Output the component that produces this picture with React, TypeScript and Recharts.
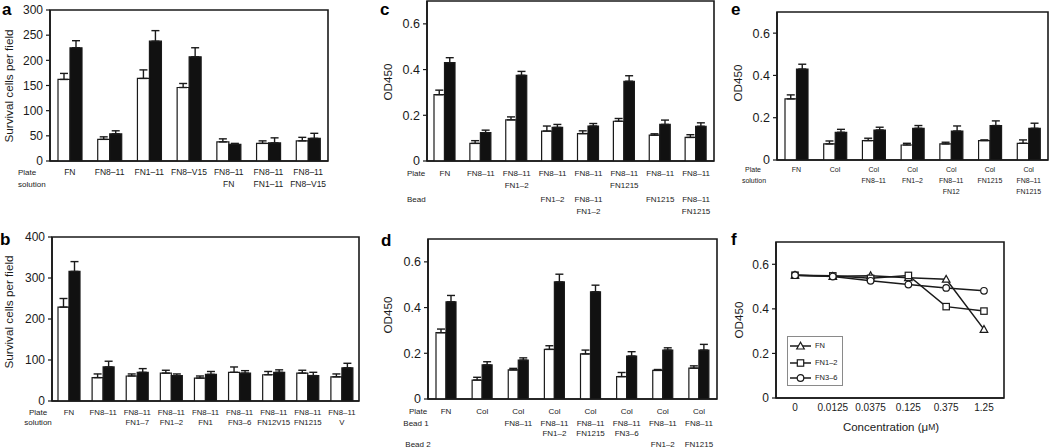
import React from 'react';
import { BarChart, Bar, XAxis, YAxis, ErrorBar, LineChart, Line, Legend, ReferenceArea } from 'recharts';

const FONT = '"Liberation Sans", Arial, Helvetica, sans-serif';
const INK = '#1a1a1a';

// ---------- Panel a ----------
const aLabels = [['FN', ''], ['FN8–11', ''], ['FN1–11', ''], ['FN8–V15', ''], ['FN8–11', 'FN'], ['FN8–11', 'FN1–11'], ['FN8–11', 'FN8–V15']];
const aOpen = [162, 43, 164, 146, 38, 35, 40];
const aOpenErr = [12, 5, 17, 8, 6, 5, 7];
const aSolid = [225, 54, 238, 207, 33, 36, 45];
const aSolidErr = [14, 6, 21, 18, 2, 10, 10];
const aTicks = [0, 50, 100, 150, 200, 250, 300];

// ---------- Panel b ----------
const bLabels = [['FN', ''], ['FN8–11', ''], ['FN8–11', 'FN1–7'], ['FN8–11', 'FN1–2'], ['FN8–11', 'FN1'], ['FN8–11', 'FN3–6'], ['FN8–11', 'FN12V15'], ['FN8–11', 'FN1215'], ['FN8–11', 'V']];
const bOpen = [229, 57, 61, 68, 56, 70, 64, 68, 59];
const bOpenErr = [21, 9, 5, 7, 5, 13, 8, 7, 7];
const bSolid = [316, 83, 70, 62, 65, 68, 70, 62, 81];
const bSolidErr = [24, 14, 9, 4, 7, 6, 6, 8, 11];
const bTicks = [0, 100, 200, 300, 400];

// ---------- Panel c ----------
const cLabels = [
  ['FN', '', '', ''], ['FN8–11', '', '', ''], ['FN8–11', 'FN1–2', '', ''], ['FN8–11', '', 'FN1–2', ''],
  ['FN8–11', '', 'FN8–11', 'FN1–2'], ['FN8–11', 'FN1215', '', ''], ['FN8–11', '', 'FN1215', ''], ['FN8–11', '', 'FN8–11', 'FN1215'],
];
const cOpen = [0.29, 0.077, 0.18, 0.131, 0.12, 0.174, 0.113, 0.103];
const cOpenErr = [0.02, 0.012, 0.013, 0.022, 0.012, 0.012, 0.006, 0.012];
const cSolid = [0.43, 0.124, 0.375, 0.147, 0.153, 0.349, 0.16, 0.152];
const cSolidErr = [0.022, 0.011, 0.017, 0.013, 0.011, 0.024, 0.019, 0.015];

// ---------- Panel d ----------
const dLabels = [
  ['FN', '', '', ''], ['Col', '', '', ''], ['Col', 'FN8–11', '', ''], ['Col', 'FN8–11', 'FN1–2', ''],
  ['Col', 'FN8–11', 'FN1215', ''], ['Col', 'FN8–11', 'FN3–6', ''], ['Col', 'FN8–11', '', 'FN1–2'], ['Col', 'FN8–11', '', 'FN1215'],
];
const dOpen = [0.29, 0.083, 0.127, 0.217, 0.197, 0.098, 0.125, 0.135];
const dOpenErr = [0.016, 0.012, 0.007, 0.016, 0.017, 0.018, 0.004, 0.01];
const dSolid = [0.425, 0.149, 0.17, 0.512, 0.469, 0.188, 0.214, 0.214];
const dSolidErr = [0.028, 0.014, 0.01, 0.034, 0.029, 0.019, 0.01, 0.025];

// ---------- Panel e ----------
const eLabels = [['FN', '', ''], ['Col', '', ''], ['Col', 'FN8–11', ''], ['Col', 'FN1–2', ''], ['Col', 'FN8–11', 'FN12'], ['Col', 'FN1215', ''], ['Col', 'FN8–11', 'FN1215']];
const eOpen = [0.289, 0.076, 0.092, 0.071, 0.076, 0.092, 0.079];
const eOpenErr = [0.019, 0.014, 0.011, 0.008, 0.008, 0.003, 0.016];
const eSolid = [0.43, 0.131, 0.142, 0.15, 0.137, 0.163, 0.15];
const eSolidErr = [0.023, 0.014, 0.013, 0.013, 0.024, 0.022, 0.024];

const odTicks = [0, 0.2, 0.4, 0.6];

// ---------- Panel f ----------
const fConc = ['0', '0.0125', '0.0375', '0.125', '0.375', '1.25'];
const fSeries = ['FN', 'FN1–2', 'FN3–6'];
const fFN = [0.551, 0.546, 0.549, 0.54, 0.533, 0.308];
const fFN12 = [0.551, 0.548, 0.537, 0.55, 0.41, 0.39];
const fFN36 = [0.551, 0.545, 0.526, 0.509, 0.494, 0.481];

const buildBars = (labels: string[][], o: number[], oe: number[], s: number[], se: number[]) =>
  labels.map((l, i) => ({
    id: l.join('|') + '#' + i,
    open: o[i],
    openErr: [0, oe[i]],
    solid: s[i],
    solidErr: [0, se[i]],
  }));

const fData = fConc.map((c, i) => ({ c, xi: i, FN: fFN[i], 'FN1–2': fFN12[i], 'FN3–6': fFN36[i] }));
const fTickIdx = fConc.map((_, i) => i);

const odFmt = (v: number) => (v === 0 ? '0' : v.toFixed(1));

type PanelProps = {
  L: number; T: number; W: number; H: number;
  data: any[]; labels: string[][]; offsets: number[];
  yMax: number; yTicks: number[]; catFs: number; tickFs: number; barSize: number;
  fmt?: (v: number) => string;
};

const YW = 45;
const MT = 8;
const MR = 4;
const AXIS = { stroke: INK, strokeWidth: 1.6 };

function BarPanel(p: PanelProps) {
  const XH = p.offsets[p.offsets.length - 1] + 9;
  const renderTick = (tp: any) => {
    const idx = tp.index ?? tp.payload?.index ?? 0;
    const lines = p.labels[idx] || [];
    return (
      <g>
        {lines.map((t, k) =>
          t ? (
            <text key={k} x={tp.x} y={tp.y + p.offsets[k]} textAnchor="middle" dominantBaseline="central"
              fontSize={p.catFs} fill={INK} fontFamily={FONT}>{t}</text>
          ) : null
        )}
      </g>
    );
  };
  return (
    <div style={{ position: 'absolute', left: p.L - YW, top: p.T - MT }}>
      <BarChart width={YW + p.W + MR} height={MT + p.H + XH} data={p.data}
        margin={{ top: MT, right: MR, left: 0, bottom: 0 }} barGap={0} barSize={p.barSize}>
        <XAxis dataKey="id" height={XH} interval={0} tickLine={false} tickSize={0} tickMargin={0}
          axisLine={AXIS} tick={renderTick} />
        <YAxis width={YW} domain={[0, p.yMax]} ticks={p.yTicks} allowDataOverflow tickSize={4} tickMargin={3}
          tick={{ fontSize: p.tickFs, fill: INK, fontFamily: FONT }} tickLine={{ stroke: INK, strokeWidth: 1.2 }}
          axisLine={AXIS} tickFormatter={p.fmt} />
        <ReferenceArea y1={0} y2={p.yMax} fill="none" fillOpacity={0} stroke={INK} strokeWidth={1.6} ifOverflow="visible" />
        <Bar dataKey="open" name="open" fill="#ffffff" stroke={INK} strokeWidth={1.2} isAnimationActive={false}>
          <ErrorBar dataKey="openErr" width={4} stroke={INK} strokeWidth={1.4} direction="y" />
        </Bar>
        <Bar dataKey="solid" name="solid" fill="#111111" stroke={INK} strokeWidth={1.2} isAnimationActive={false}>
          <ErrorBar dataKey="solidErr" width={4} stroke={INK} strokeWidth={1.4} direction="y" />
        </Bar>
      </BarChart>
    </div>
  );
}

function Marker({ kind, cx, cy }: { kind: number; cx: number; cy: number }) {
  if (kind === 0) {
    return <polygon points={`${cx},${cy - 3.8} ${cx - 3.8},${cy + 3} ${cx + 3.8},${cy + 3}`} fill="#fff" stroke={INK} strokeWidth={1.2} />;
  }
  if (kind === 1) {
    return <rect x={cx - 3.2} y={cy - 3.2} width={6.4} height={6.4} fill="#fff" stroke={INK} strokeWidth={1.2} />;
  }
  return <circle cx={cx} cy={cy} r={3.3} fill="#fff" stroke={INK} strokeWidth={1.2} />;
}

const dotFor = (kind: number) => (dp: any) => (
  <Marker key={`m${kind}-${dp.index}`} kind={kind} cx={dp.cx} cy={dp.cy} />
);

const FL = 776, FT = 242, FW = 228, FH = 156;

function FLegend() {
  const tops = [5, 22, 37];
  return (
    <div style={{ border: '1px solid #8a8a8a', width: 56, height: 50, background: '#fff', position: 'relative', boxSizing: 'border-box', fontFamily: FONT, fontSize: 7.5, color: INK }}>
      {fSeries.map((s, i) => (
        <div key={s} style={{ position: 'absolute', left: 1, top: tops[i] - 1, height: 10, display: 'flex', alignItems: 'center', whiteSpace: 'nowrap' }}>
          <svg width={23} height={10} style={{ display: 'block' }}>
            <line x1={1} y1={5} x2={22} y2={5} stroke={INK} strokeWidth={1.5} />
            <Marker kind={i} cx={11.5} cy={5} />
          </svg>
          <span style={{ marginLeft: 3, lineHeight: '10px' }}>{s}</span>
        </div>
      ))}
    </div>
  );
}

function LinePanel() {
  const XH = 20;
  return (
    <div style={{ position: 'absolute', left: FL - YW, top: FT - MT }}>
      <LineChart width={YW + FW + MR} height={MT + FH + XH} data={fData} margin={{ top: MT, right: MR, left: 0, bottom: 0 }}>
        <XAxis dataKey="xi" type="number" domain={[-0.503, 5.53]} allowDataOverflow ticks={fTickIdx} height={XH} interval={0}
          tickLine={false} tickSize={0} tickMargin={6} tick={{ fontSize: 10, fill: INK, fontFamily: FONT }} axisLine={AXIS}
          tickFormatter={(v: number) => fConc[v] ?? ''} />
        <YAxis width={YW} domain={[0, 0.7]} ticks={odTicks} allowDataOverflow tickSize={4} tickMargin={3}
          tick={{ fontSize: 12, fill: INK, fontFamily: FONT }} tickLine={{ stroke: INK, strokeWidth: 1.2 }} axisLine={AXIS} tickFormatter={odFmt} />
        <ReferenceArea y1={0} y2={0.7} fill="none" fillOpacity={0} stroke={INK} strokeWidth={1.6} ifOverflow="visible" />
        {fSeries.map((s, i) => (
          <Line key={s} dataKey={s} name={s} stroke={INK} strokeWidth={1.5} dot={dotFor(i)} activeDot={false} isAnimationActive={false} />
        ))}
        <Legend layout="vertical" align="center" verticalAlign="middle" content={() => <FLegend />}
          wrapperStyle={{ left: 787 - (FL - YW), top: 336 - (FT - MT), width: 56, height: 50 }} />
      </LineChart>
    </div>
  );
}

function T({ x, y, children, size = 8, anchor = 'start' as any, weight = 400 }: any) {
  return (
    <text x={x} y={y} fontSize={size} textAnchor={anchor} dominantBaseline="central" fontFamily={FONT} fill={INK} fontWeight={weight}>
      {children}
    </text>
  );
}

function YTitle({ x, y, children, size = 11.7 }: any) {
  return (
    <text x={x} y={y} transform={`rotate(-90 ${x} ${y})`} fontSize={size} textAnchor="middle" dominantBaseline="central" fontFamily={FONT} fill={INK}>
      {children}
    </text>
  );
}

function Letter({ x, y, children }: any) {
  return <text x={x} y={y} fontSize={17} fontWeight={700} fontFamily={FONT} fill="#000">{children}</text>;
}

export default function App() {
  return (
    <div style={{ position: 'absolute', left: 0, top: 0, width: 1050, height: 447, background: '#fff', overflow: 'hidden' }}>
      <BarPanel L={50} T={10} W={278} H={151} data={buildBars(aLabels, aOpen, aOpenErr, aSolid, aSolidErr)} labels={aLabels}
        offsets={[11, 23]} yMax={300} yTicks={aTicks} catFs={8.5} tickFs={12} barSize={12} />
      <BarPanel L={52} T={237} W={307} H={164} data={buildBars(bLabels, bOpen, bOpenErr, bSolid, bSolidErr)} labels={bLabels}
        offsets={[11, 21]} yMax={400} yTicks={bTicks} catFs={7.8} tickFs={12} barSize={11} />
      <BarPanel L={427} T={1} W={287} H={160} data={buildBars(cLabels, cOpen, cOpenErr, cSolid, cSolidErr)} labels={cLabels}
        offsets={[12, 24, 38, 50]} yMax={0.7} yTicks={odTicks} catFs={8} tickFs={12.5} barSize={10.5} fmt={odFmt} />
      <BarPanel L={428} T={239} W={289} H={160} data={buildBars(dLabels, dOpen, dOpenErr, dSolid, dSolidErr)} labels={dLabels}
        offsets={[12, 24, 34, 45]} yMax={0.7} yTicks={odTicks} catFs={8} tickFs={12.5} barSize={10} fmt={odFmt} />
      <BarPanel L={777} T={12} W={271} H={148} data={buildBars(eLabels, eOpen, eOpenErr, eSolid, eSolidErr)} labels={eLabels}
        offsets={[9, 20, 31]} yMax={0.7} yTicks={odTicks} catFs={7} tickFs={12.5} barSize={11.5} fmt={odFmt} />
      <LinePanel />
      <svg width={1050} height={447} style={{ position: 'absolute', left: 0, top: 0, pointerEvents: 'none' }}>
        <Letter x={2} y={15}>a</Letter>
        <Letter x={0} y={245}>b</Letter>
        <Letter x={380} y={15}>c</Letter>
        <Letter x={381} y={246}>d</Letter>
        <Letter x={731} y={15}>e</Letter>
        <Letter x={731} y={245}>f</Letter>

        <YTitle x={8} y={86}>Survival cells per field</YTitle>
        <YTitle x={8} y={312}>Survival cells per field</YTitle>
        <YTitle x={387} y={82}>OD450</YTitle>
        <YTitle x={387} y={315}>OD450</YTitle>
        <YTitle x={737} y={83}>OD450</YTitle>
        <YTitle x={738} y={320}>OD450</YTitle>

        <T x={18} y={172}>Plate</T>
        <T x={18} y={184}>solution</T>
        <T x={38} y={412} anchor="middle">Plate</T>
        <T x={38} y={422} anchor="middle">solution</T>
        <T x={407} y={173}>Plate</T>
        <T x={407} y={199}>Bead</T>
        <T x={418} y={411} anchor="middle">Plate</T>
        <T x={416} y={423} anchor="middle">Bead 1</T>
        <T x={418} y={444} anchor="middle">Bead 2</T>
        <T x={753} y={169} anchor="middle" size={7}>Plate</T>
        <T x={754} y={180} anchor="middle" size={7}>solution</T>

        <text x={891} y={427} fontSize={11.5} textAnchor="middle" dominantBaseline="central" fontFamily={FONT} fill={INK}>
          Concentration (μ<tspan fontSize={8.5}>M</tspan>)
        </text>
      </svg>
    </div>
  );
}
